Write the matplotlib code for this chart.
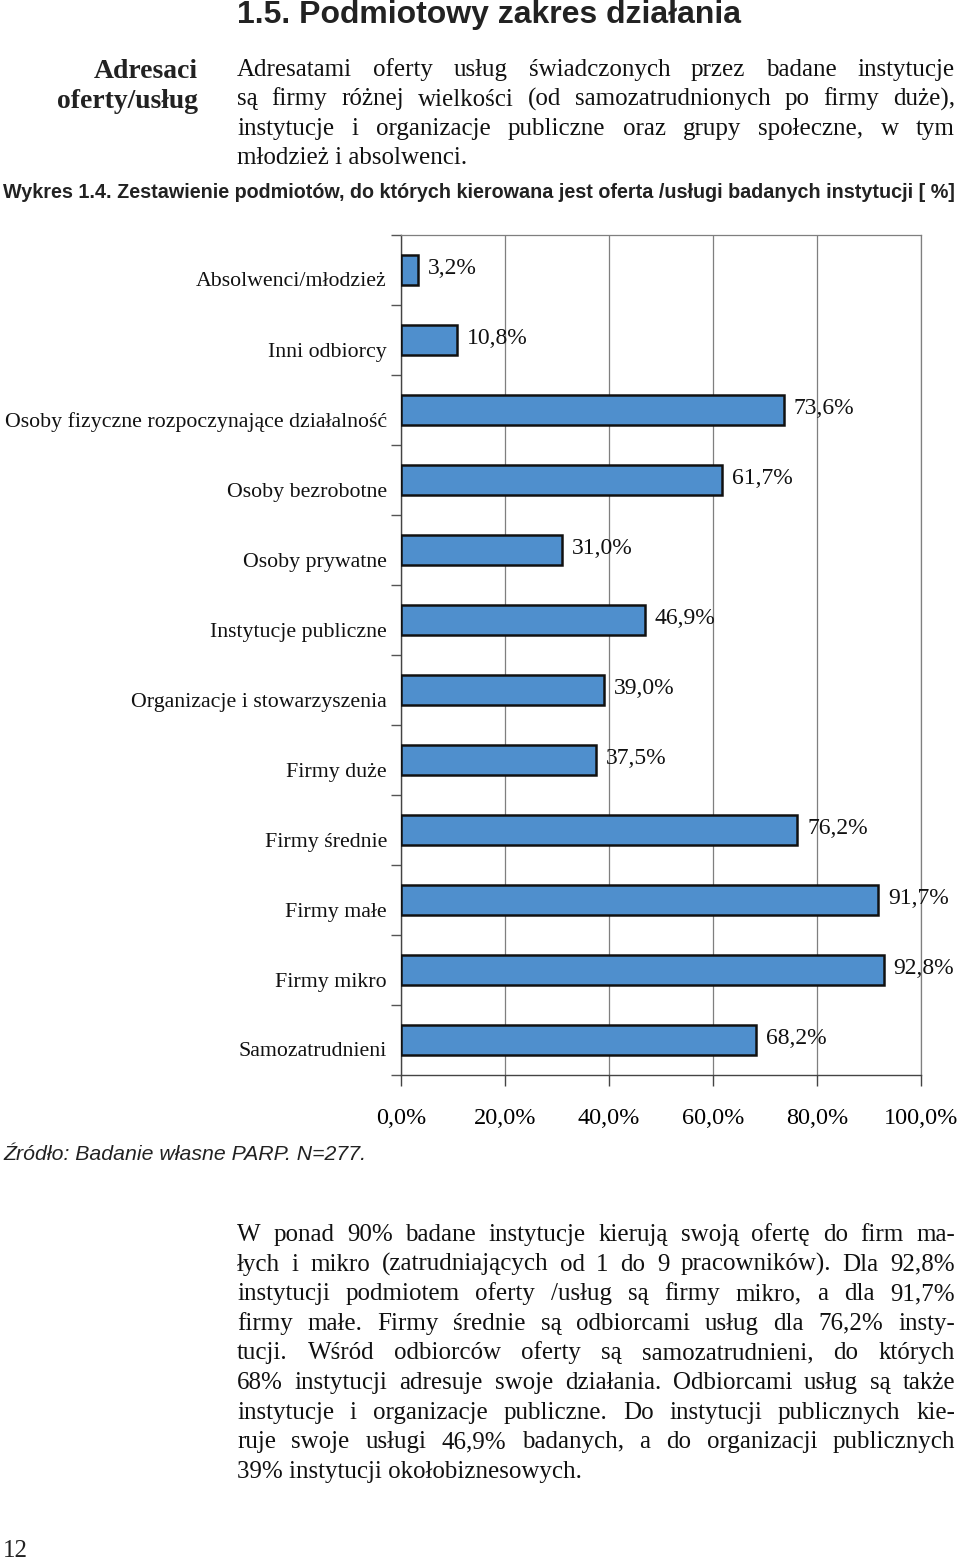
import numpy as np
import matplotlib
matplotlib.use("Agg")
import matplotlib.pyplot as plt
from matplotlib import font_manager
from matplotlib.transforms import ScaledTranslation
from matplotlib.ticker import FuncFormatter

# ---------------- data ----------------
categories = [
    "Absolwenci/młodzież",
    "Inni odbiorcy",
    "Osoby fizyczne rozpoczynające działalność",
    "Osoby bezrobotne",
    "Osoby prywatne",
    "Instytucje publiczne",
    "Organizacje i stowarzyszenia",
    "Firmy duże",
    "Firmy średnie",
    "Firmy małe",
    "Firmy mikro",
    "Samozatrudnieni",
]
values = [3.2, 10.8, 73.6, 61.7, 31.0, 46.9, 39.0, 37.5, 76.2, 91.7, 92.8, 68.2]
x_ticks = [0, 20, 40, 60, 80, 100]

title_text = "1.5. Podmiotowy zakres działania"
side_lines = ["Adresaci", "oferty/usług"]
intro_lines = [
    "Adresatami oferty usług świadczonych przez badane instytucje",
    "są firmy różnej wielkości (od samozatrudnionych po firmy duże),",
    "instytucje i organizacje publiczne oraz grupy społeczne, w tym",
    "młodzież i absolwenci.",
]
caption_text = ("Wykres 1.4. Zestawienie podmiotów, do których kierowana jest "
                "oferta /usługi badanych instytucji [ %]")
source_text = "Źródło: Badanie własne PARP. N=277."
body_lines = [
    "W ponad 90% badane instytucje kierują swoją ofertę do firm ma-",
    "łych i mikro (zatrudniających od 1 do 9 pracowników). Dla 92,8%",
    "instytucji podmiotem oferty /usług są firmy mikro, a dla 91,7%",
    "firmy małe. Firmy średnie są odbiorcami usług dla 76,2% insty-",
    "tucji. Wśród odbiorców oferty są samozatrudnieni, do których",
    "68% instytucji adresuje swoje działania. Odbiorcami usług są także",
    "instytucje i organizacje publiczne. Do instytucji publicznych kie-",
    "ruje swoje usługi 46,9% badanych, a do organizacji publicznych",
    "39% instytucji okołobiznesowych.",
]
page_number = "12"

# ---------------- setup ----------------
W, H, DPI = 960, 1562, 100
fig = plt.figure(figsize=(W / DPI, H / DPI), dpi=DPI)
renderer = fig.canvas.get_renderer()

installed = {f.name for f in font_manager.fontManager.ttflist}
SERIF = "Liberation Serif"
SANS = "Liberation Sans Narrow" if "Liberation Sans Narrow" in installed else "Liberation Sans"


def fx(x):
    return x / W


def fy(y):
    return 1 - y / H


def text_width(s, size, family, weight="normal", style="normal"):
    t = fig.text(0, 0, s, fontsize=size, family=family, weight=weight, style=style)
    w = t.get_window_extent(renderer).width
    t.remove()
    return w


def fit_size(s, target, family, weight="normal", style="normal", ref=20):
    return ref * target / text_width(s, ref, family, weight, style)


def justify(lines, x0, x1, baselines, size, family, last_ragged=True):
    for i, (line, yb) in enumerate(zip(lines, baselines)):
        words = line.split(" ")
        if (last_ragged and i == len(lines) - 1) or len(words) == 1:
            fig.text(fx(x0), fy(yb), line, fontsize=size, family=family,
                     va="baseline", ha="left", color="#111111")
            continue
        widths = [text_width(w, size, family) for w in words]
        gap = (x1 - x0 - sum(widths)) / (len(words) - 1)
        x = x0
        for w, wd in zip(words, widths):
            fig.text(fx(x), fy(yb), w, fontsize=size, family=family,
                     va="baseline", ha="left", color="#111111")
            x += wd + gap


# ---------------- page text ----------------
ts = fit_size(title_text, 504, SANS, weight="bold")
fig.text(fx(237), fy(15), title_text, fontsize=ts, family=SANS, weight="bold",
         va="center", ha="left", color="#222222")

ss = fit_size(side_lines[0], 104, SERIF, weight="bold")
for ln, yc in zip(side_lines, [71, 101]):
    fig.text(fx(198), fy(yc), ln, fontsize=ss, family=SERIF, weight="bold",
             va="center", ha="right", color="#222222")

body_size = min(18.0, min(0.99 * 718 / text_width(l, 1, SERIF)
                          for l in intro_lines[:-1] + body_lines[:-1]))
justify(intro_lines, 237, 955, [76, 105.5, 135, 164.5], body_size, SERIF)

cs = fit_size(caption_text, 952, SANS, weight="bold")
fig.text(fx(3), fy(193), caption_text, fontsize=cs, family=SANS, weight="bold",
         va="center", ha="left", color="#222222")

srs = fit_size(source_text, 362, "Liberation Sans", style="italic")
fig.text(fx(3), fy(1155), source_text, fontsize=srs, family="Liberation Sans",
         style="italic", va="center", ha="left", color="#222222")

justify(body_lines, 237, 955, [1241 + 29.6 * i for i in range(len(body_lines))],
        body_size, SERIF)

fig.text(fx(3), fy(1551), page_number, fontsize=18, family=SERIF,
         va="center", ha="left", color="#222222")

# ---------------- chart ----------------
ax = fig.add_axes([fx(401), (H - 1075) / H, 520 / W, 840 / H])
pos = np.arange(len(categories))
ax.barh(pos, values, height=0.43, color="#4F8FCD", edgecolor="#111111",
        linewidth=1.8, zorder=3)
ax.set_xlim(0, 100)
ax.set_ylim(len(categories) - 0.5, -0.5)

ax.set_xticks(x_ticks)
ax.xaxis.set_major_formatter(FuncFormatter(lambda v, p: f"{v:.1f}".replace(".", ",") + "%"))
ax.tick_params(axis="x", length=8, width=1, color="#444444", direction="out",
               pad=16, labelsize=17.5)
for lab in ax.get_xticklabels():
    lab.set_family(SERIF)

ax.set_yticks([])
ax.set_yticks(np.arange(-0.5, len(categories), 1), minor=True)
ax.tick_params(axis="y", which="minor", length=7, width=1, color="#555555",
               direction="out")
ax.tick_params(axis="y", which="major", length=0)

ax.grid(axis="x", color="#7f7f7f", linewidth=0.9, zorder=0)
ax.set_axisbelow(True)
for side in ["top", "right"]:
    ax.spines[side].set_color("#7f7f7f")
    ax.spines[side].set_linewidth(0.9)
for side in ["left", "bottom"]:
    ax.spines[side].set_color("#444444")
    ax.spines[side].set_linewidth(1.0)

cat_size = fit_size(categories[2], 382, SERIF)
lab_tr = ax.get_yaxis_transform() + ScaledTranslation(-14 / DPI, -12 / DPI, fig.dpi_scale_trans)
for p, c in zip(pos, categories):
    ax.text(0, p, c, transform=lab_tr, ha="right", va="center", fontsize=cat_size,
            family=SERIF, color="#111111", clip_on=False)

val_tr = ax.transData + ScaledTranslation(10 / DPI, 1 / DPI, fig.dpi_scale_trans)
for p, v in zip(pos, values):
    ax.text(v, p, f"{v:.1f}".replace(".", ",") + "%", transform=val_tr,
            ha="left", va="center", fontsize=17, family=SERIF, color="#111111",
            clip_on=False, zorder=4)

fig.savefig("out.png", dpi=DPI)
